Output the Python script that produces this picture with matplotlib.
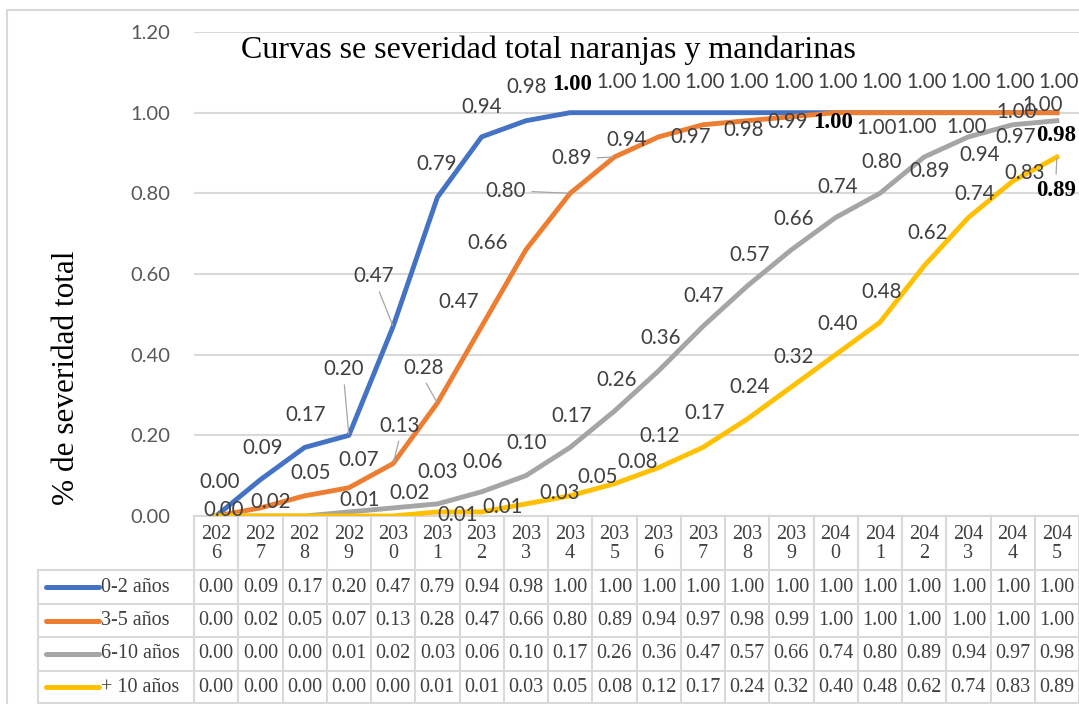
import matplotlib.pyplot as plt
import numpy as np

W, H = 1079, 704

years = [str(y) for y in range(2026, 2046)]
series_names = ['0-2 años', '3-5 años', '6-10 años', '+ 10 años']
colors = ['#4472C4', '#ED7D31', '#A5A5A5', '#FFC000']

s_0_2 = [0.00, 0.09, 0.17, 0.20, 0.47, 0.79, 0.94, 0.98, 1.00, 1.00,
         1.00, 1.00, 1.00, 1.00, 1.00, 1.00, 1.00, 1.00, 1.00, 1.00]
s_3_5 = [0.00, 0.02, 0.05, 0.07, 0.13, 0.28, 0.47, 0.66, 0.80, 0.89,
         0.94, 0.97, 0.98, 0.99, 1.00, 1.00, 1.00, 1.00, 1.00, 1.00]
s_6_10 = [0.00, 0.00, 0.00, 0.01, 0.02, 0.03, 0.06, 0.10, 0.17, 0.26,
          0.36, 0.47, 0.57, 0.66, 0.74, 0.80, 0.89, 0.94, 0.97, 0.98]
s_10 = [0.00, 0.00, 0.00, 0.00, 0.00, 0.01, 0.01, 0.03, 0.05, 0.08,
        0.12, 0.17, 0.24, 0.32, 0.40, 0.48, 0.62, 0.74, 0.83, 0.89]
all_series = [s_0_2, s_3_5, s_6_10, s_10]

# label offsets in pixels (dx right, dy down), None = label not shown
up = (2, -31)
offsets = [
    [(4, -34), (2, -32), (1, -32), (-5, -66), (-20, -50), (-1, -33), (0, -30), (1, -34), (2, -28)] + [up] * 11,
    [(8, -6), (10, -6), (6, -23), (10, -28), (7, -38), (-14, -35), (-23, -24), (-38, -7), (-64, -2), (-43, 1),
     (-32, 3), (-12, 12), (-3, 9), (-4, 5), (-3, 10), (-3, 15), (-7, 14), (-2, 14), (4, -1), (-14, -8)],
    [None, None, None, (11, -12), (17, -15), (0, -32), (1, -30), (1, -33), (2, -31), (2, -31),
     (2, -33), (1, -30), (2, -31), (2, -31), (2, -31), (2, -31), (6, 14), (11, 18), (3, 12), (-1, 15)],
    [None, None, None, None, None, (20, 3), (21, -5), (34, -11), (27, -19), (23, -22),
     (1, -32), (2, -34), (2, -32), (2, -30), (2, -31), (2, -30), (3, -33), (6, -24), (12, -8), (-1, 33)],
]
# bold serif labels (series, year index)
bold = {(0, 8), (1, 14), (2, 19), (3, 19)}
# leader lines: (series, index) -> relpos on the text
leaders = {(0, 3): (0.5, 0), (0, 4): (0.6, 0), (1, 4): (0.5, 0), (1, 5): (0.5, 0),
           (1, 8): (1, 0.5), (1, 9): (1, 0.5), (3, 19): (0.5, 1)}

fig = plt.figure(figsize=(W / 100, H / 100), dpi=100)

# overlay in pixel coordinates for border and data table
over = fig.add_axes([0, 0, 1, 1])
over.set_xlim(0, W)
over.set_ylim(H, 0)
over.axis('off')

ax_left, ax_right, ax_top, ax_bottom = 194, 1079, 32, 516
ax = fig.add_axes([ax_left / W, 1 - ax_bottom / H, (ax_right - ax_left) / W, (ax_bottom - ax_top) / H])
ax.set_facecolor('none')
x = np.arange(len(years))
ax.set_xlim(-0.5, len(years) - 0.5)
ax.set_ylim(0, 1.2)
ax.set_yticks(np.arange(0, 1.21, 0.2))
ax.set_yticklabels(['%.2f' % v for v in np.arange(0, 1.21, 0.2)], family='Lato', fontsize=14.5, color='#595959')
ax.tick_params(axis='y', length=0, pad=17)
ax.set_xticks([])
for s in ax.spines.values():
    s.set_visible(False)
ax.grid(axis='y', color='#d9d9d9', lw=1.5)
ax.set_axisbelow(True)

for k, vals in enumerate(all_series):
    ax.plot(x, vals, color=colors[k], lw=3.5, solid_joinstyle='round', zorder=3)

for k, vals in enumerate(all_series):
    for i, v in enumerate(vals):
        off = offsets[k][i]
        if off is None:
            continue
        if (k, i) in bold:
            font = dict(family='Liberation Serif', fontweight='bold', fontsize=16.5, color='black')
        else:
            font = dict(family='Lato', fontsize=14.8, color='#404040')
        arrow = None
        if (k, i) in leaders:
            arrow = dict(arrowstyle='-', color='#a6a6a6', lw=0.9, relpos=leaders[(k, i)], shrinkA=2, shrinkB=1)
        ax.annotate('%.2f' % v, (i, v), xytext=(off[0], -off[1]), textcoords='offset pixels',
                    ha='center', va='center', arrowprops=arrow, zorder=5, **font)

fig.text(548 / W, 1 - 50 / H, 'Curvas se severidad total naranjas y mandarinas',
         family='Liberation Serif', fontsize=23, ha='center', va='center')
fig.text(67 / W, 1 - 378 / H, '% de severidad total', family='Liberation Serif', fontsize=22.5,
         rotation=90, ha='center', va='center')

# chart border
over.plot([7, 7, W], [H, 10, 10], color='#d9d9d9', lw=1.5)

# data table
grid_c = '#d9d9d9'
col_w = (ax_right - ax_left) / len(years)
col_edges = [ax_left + col_w * i for i in range(len(years) + 1)]
row_edges = [570, 604, 637, 671, 703]
leg_left = 38
over.plot([ax_left, ax_right], [ax_bottom, ax_bottom], color=grid_c, lw=1.5)
for xe in col_edges:
    over.plot([xe, xe], [ax_bottom, row_edges[-1]], color=grid_c, lw=1.5)
for ye in row_edges:
    over.plot([leg_left, ax_right], [ye, ye], color=grid_c, lw=1.5)
over.plot([leg_left, leg_left], [row_edges[0], row_edges[-1]], color=grid_c, lw=1.5)

tfont = dict(family='Liberation Serif', fontsize=14.5, color='#404040')
for i, y in enumerate(years):
    over.text((col_edges[i] + col_edges[i + 1]) / 2, (ax_bottom + row_edges[0]) / 2 + 1, y[:3] + '\n' + y[3],
              ha='center', va='center', linespacing=0.95, **tfont)

for k, vals in enumerate(all_series):
    yc = (row_edges[k] + row_edges[k + 1]) / 2
    over.plot([46, 99], [yc, yc], color=colors[k], lw=3.6, solid_capstyle='round')
    over.text(101, yc, series_names[k], ha='left', va='center', **tfont)
    for i, v in enumerate(vals):
        over.text((col_edges[i] + col_edges[i + 1]) / 2, yc, '%.2f' % v, ha='center', va='center', **tfont)

fig.savefig('out.png', dpi=100)
